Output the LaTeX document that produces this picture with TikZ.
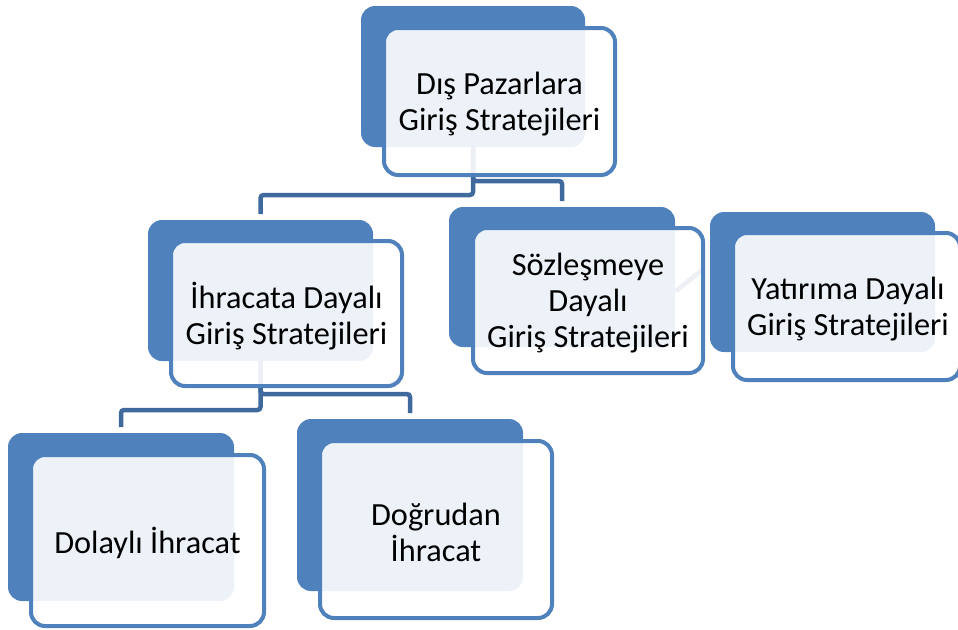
\documentclass[tikz,border=0pt]{standalone}
\usepackage{fontspec}
\setmainfont{Carlito}
\usetikzlibrary{fit}
\definecolor{boxblue}{RGB}{79,129,189}
\definecolor{connblue}{RGB}{64,106,158}
\begin{document}
\begin{tikzpicture}[x=1pt,y=-1pt,
  backbox/.style={fill=boxblue, rounded corners=14pt, inner sep=0pt, outer sep=0pt},
  frontbox/.style={draw=boxblue, line width=4pt, fill=white, fill opacity=0.9, rounded corners=14pt, inner sep=0pt, outer sep=0pt},
  lbl/.style={align=center, font=\fontsize{32.3}{36}\selectfont, inner sep=0pt, text=black, yshift=-2.5pt},
  conn/.style={draw=connblue, line width=4.5pt, rounded corners=3pt, shorten >=6pt}]
\useasboundingbox (0,0) rectangle (958,629);
% back boxes
\node[backbox, fit={(361,6) (585,147)}] (rootB) {};
\node[backbox, fit={(148,220) (373,361)}] (ihrB) {};
\node[backbox, fit={(449,207) (675,347)}] (sozB) {};
\node[backbox, fit={(710,212) (935,352)}] (yatB) {};
\node[backbox, fit={(8,433) (234,601)}] (dolB) {};
\node[backbox, fit={(297,419) (523,591)}] (dogB) {};
% connector levels
\coordinate (j1) at (0,195);
\coordinate (j2) at (0,181);
\coordinate (j3) at (0,410);
\coordinate (j4) at (0,394);
\coordinate (d1) at (676,291);
\coordinate (d2) at (702,270);
\draw[conn] (rootB.south) |- (ihrB.north |- j1) -- (ihrB.north);
\draw[conn] (rootB.south) |- (sozB.north |- j2) -- (sozB.north);
\draw[conn] (ihrB.south) |- (dolB.north |- j3) -- (dolB.north);
\draw[conn] (ihrB.south) |- (dogB.north |- j4) -- (dogB.north);
\draw[conn, shorten >=0pt] (d1) -- (d2);
% front boxes
\node[frontbox, fit={(384,28) (615,175)}] (rootF) {};
\node[frontbox, fit={(171,241) (402,386)}] (ihrF) {};
\node[frontbox, fit={(473,228) (703,373)}] (sozF) {};
\node[frontbox, fit={(733,233) (960,380)}] (yatF) {};
\node[frontbox, fit={(31,455) (264,626)}] (dolF) {};
\node[frontbox, fit={(320,441) (552,618)}] (dogF) {};
% labels
\node[lbl] (rootT) at (rootF.center) {Dış Pazarlara\\Giriş Stratejileri};
\node[lbl] (ihrT) at (ihrF.center) {İhracata Dayalı\\Giriş Stratejileri};
\node[lbl] (sozT) at (sozF.center) {Sözleşmeye\\Dayalı\\Giriş Stratejileri};
\node[lbl] (yatT) at ([xshift=1.5pt]yatF.center) {Yatırıma Dayalı\\Giriş Stratejileri};
\node[lbl] (dolT) at (dolF.center) {Dolaylı İhracat};
\node[lbl] (dogT) at (dogF.center) {Doğrudan\\İhracat};
\end{tikzpicture}
\end{document}
